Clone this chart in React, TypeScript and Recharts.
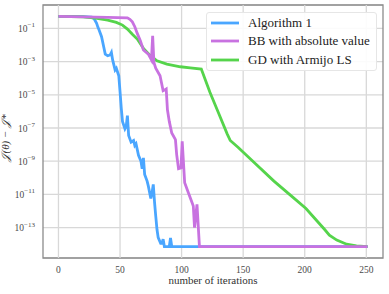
import React from "react";
import { LineChart, Line, XAxis, YAxis, CartesianGrid, ReferenceArea } from "recharts";

// iterations and log10(J(theta) - J*) values
const algoIter = [0, 10, 20, 27, 29, 31, 32, 33, 35, 37, 38, 40, 42, 43, 44, 46, 47, 49, 50, 51, 52, 54, 55, 56, 57, 59, 61, 62, 63, 65, 67, 68, 69, 70, 72, 73, 75, 76, 77, 78, 79, 80, 81, 83, 84, 85, 86, 87, 90, 91, 92, 251];
const algoLog = [-0.28, -0.28, -0.29, -0.32, -0.42, -0.7, -0.92, -1.1, -1.5, -2.2, -2.55, -2.65, -2.6, -2.45, -2.9, -3.5, -3.4, -3.85, -4.8, -5.8, -6.6, -7.05, -6.9, -6.25, -7.45, -7.85, -7.75, -8.05, -7.95, -8.65, -9.0, -9.45, -8.8, -9.8, -10.2, -10.5, -11.25, -10.9, -10.4, -11.45, -12.3, -13.1, -13.6, -13.95, -13.95, -13.7, -14.14, -14.14, -14.14, -13.62, -14.14, -14.14];

const bbIter = [0, 20, 40, 56, 58, 60, 62, 64, 66.5, 69, 73, 75.5, 76.5, 77.5, 79, 82.5, 85, 86.5, 87.5, 88.5, 90, 92, 95, 96, 97.5, 99.5, 100.5, 102.5, 105.5, 108, 109.5, 110.5, 112.5, 114.5, 251];
const bbLog = [-0.27, -0.3, -0.33, -0.36, -0.45, -0.6, -0.9, -1.3, -1.75, -2.3, -2.55, -2.9, -1.45, -3.05, -3.4, -3.85, -4.75, -4.7, -4.65, -5.9, -6.6, -7.3, -7.7, -8.6, -9.45, -9.4, -7.8, -10.3, -10.9, -11.4, -11.7, -13.0, -11.6, -14.14, -14.14];

const gdIter = [0, 20, 30, 40, 47, 52, 56, 60, 64, 69, 74, 80, 88, 99, 107, 116, 123, 130, 137, 139.5, 146, 160, 175, 190, 201, 210, 216, 220, 226, 234, 242, 251];
const gdLog = [-0.28, -0.3, -0.38, -0.5, -0.64, -0.8, -1.04, -1.35, -1.64, -2.2, -2.6, -2.95, -3.15, -3.31, -3.38, -3.45, -4.85, -6.1, -7.35, -7.75, -8.17, -9.15, -10.2, -11.15, -11.85, -12.6, -13.1, -13.45, -13.75, -14.0, -14.1, -14.14];

const seriesNames = ["Algorithm 1", "BB with absolute value", "GD with Armijo LS"];
const seriesColors = ["#4aa6ff", "#c872e0", "#55d44b"];

const xTicks = [0, 50, 100, 150, 200, 250];
const yTicks = [-13, -11, -9, -7, -5, -3, -1];

const toPoints = (its: number[], vals: number[]) => its.map((it, i) => ({ it, v: vals[i] }));
const algoData = toPoints(algoIter, algoLog);
const bbData = toPoints(bbIter, bbLog);
const gdData = toPoints(gdIter, gdLog);

const FONT = "Liberation Serif, DejaVu Serif, serif";
const TICK_COLOR = "#4a4a4a";
const SPINE = "#8c8c8c";
const GRID = "#d8d8d8";
const X_DOMAIN: [number, number] = [-12.55, 263.55];
const Y_DOMAIN: [number, number] = [-14.83, 0.41];

// vertical grid lines, one per x tick, spanning the y domain
const vGridData = xTicks.map((t) => [
  { it: t, v: Y_DOMAIN[0] },
  { it: t, v: Y_DOMAIN[1] },
]);

const XTick = (props: any) => {
  const { x, y, payload } = props;
  return (
    <text x={x} y={y + 6.5} textAnchor="middle" fill={TICK_COLOR} fontSize={9.5} fontFamily={FONT}>
      {payload.value}
    </text>
  );
};

const YTick = (props: any) => {
  const { x, y, payload } = props;
  return (
    <text x={x} y={y + 3.5} textAnchor="end" fill={TICK_COLOR} fontSize={9.5} fontFamily={FONT}>
      10
      <tspan dy={-4.5} fontSize={7}>{"\u2212" + Math.abs(payload.value)}</tspan>
    </text>
  );
};

const LegendBox = () => (
  <div
    style={{
      position: "absolute",
      left: 206,
      top: 12,
      background: "rgba(255,255,255,0.9)",
      border: "1px solid #e6e6e6",
      borderRadius: 3,
      padding: "1px 6px 1px 4px",
      fontFamily: FONT,
      fontSize: 13,
      lineHeight: "18.3px",
      color: "#222",
    }}
  >
    {seriesNames.map((n, i) => (
      <div key={n} style={{ display: "flex", alignItems: "center", height: 18.3 }}>
        <svg width={28} height={4} style={{ marginRight: 9 }}>
          <line x1={0} y1={2} x2={28} y2={2} stroke={seriesColors[i]} strokeWidth={2.8} />
        </svg>
        <span>{n}</span>
      </div>
    ))}
  </div>
);

export default function App() {
  return (
    <div style={{ position: "absolute", left: 0, top: 0, width: 389, height: 294, background: "#fff" }}>
      <LineChart width={389} height={294} margin={{ top: 5, right: 6, bottom: 6, left: 8 }} data={gdData}>
        <CartesianGrid stroke={GRID} strokeWidth={1.3} vertical={false} horizontal />
        <XAxis
          dataKey="it"
          type="number"
          domain={X_DOMAIN}
          ticks={xTicks}
          allowDataOverflow
          height={30}
          tickLine={false}
          axisLine={false}
          tick={<XTick />}
          label={{ value: "number of iterations", position: "insideBottom", offset: 4, fontSize: 11, fontFamily: FONT, fill: "#333" }}
        />
        <YAxis
          dataKey="v"
          type="number"
          domain={Y_DOMAIN}
          ticks={yTicks}
          allowDataOverflow
          width={35}
          tickLine={false}
          axisLine={false}
          tick={<YTick />}
          label={{ value: "\uD835\uDCA5(\u03B8) \u2212 \uD835\uDCA5*", angle: -90, position: "insideLeft", offset: -3, dy: 30, fontSize: 11, fontStyle: "italic", fontFamily: FONT, fill: "#333" }}
        />
        {vGridData.map((d, i) => (
          <Line
            key={"vg" + i}
            data={d}
            dataKey="v"
            stroke={GRID}
            strokeWidth={1.3}
            dot={false}
            activeDot={false}
            legendType="none"
            isAnimationActive={false}
          />
        ))}
        <ReferenceArea x1={X_DOMAIN[0]} x2={X_DOMAIN[1]} y1={Y_DOMAIN[0]} y2={Y_DOMAIN[1]} fill="none" fillOpacity={0} stroke={SPINE} strokeWidth={1.3} strokeOpacity={1} ifOverflow="visible" />
        <Line data={algoData} dataKey="v" name={seriesNames[0]} stroke={seriesColors[0]} strokeWidth={2.8} dot={false} isAnimationActive={false} />
        <Line data={gdData} dataKey="v" name={seriesNames[2]} stroke={seriesColors[2]} strokeWidth={2.8} dot={false} isAnimationActive={false} />
        <Line data={bbData} dataKey="v" name={seriesNames[1]} stroke={seriesColors[1]} strokeWidth={2.8} dot={false} isAnimationActive={false} />
      </LineChart>
      <LegendBox />
    </div>
  );
}
